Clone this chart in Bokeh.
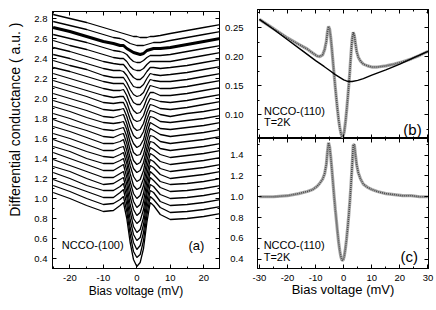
from bokeh.plotting import figure
from bokeh.layouts import row, column
from bokeh.models import LinearAxis, FixedTicker, NumeralTickFormatter, Label, Range1d, Title
from bokeh.embed import file_html
from bokeh.resources import INLINE

FONT = "Liberation Sans"

# ---------------- panel (a): NCCO-(100), curves offset ----------------
a_bias = [-25, -20, -15, -10, -7, -5, -4, -3, -2, -1, 0, 1, 2, 3, 4, 5, 7, 10, 15, 20, 25]
g00 = [2.84,2.80,2.76,2.71,2.68,2.66,2.65,2.64,2.63,2.62,2.62,2.61,2.61,2.61,2.62,2.62,2.63,2.65,2.68,2.71,2.74]
g01 = [2.77,2.73,2.69,2.64,2.61,2.60,2.59,2.57,2.55,2.54,2.53,2.53,2.53,2.54,2.55,2.56,2.56,2.58,2.61,2.64,2.67]
g02 = [2.71,2.67,2.62,2.57,2.55,2.53,2.53,2.50,2.48,2.46,2.45,2.44,2.45,2.48,2.49,2.50,2.50,2.51,2.54,2.57,2.60]
g03 = [2.64,2.60,2.56,2.51,2.48,2.47,2.46,2.44,2.40,2.37,2.36,2.36,2.38,2.41,2.43,2.43,2.43,2.44,2.47,2.50,2.53]
g04 = [2.58,2.53,2.49,2.44,2.41,2.40,2.40,2.37,2.32,2.29,2.28,2.28,2.30,2.34,2.37,2.37,2.37,2.37,2.40,2.43,2.46]
g05 = [2.51,2.47,2.42,2.37,2.35,2.34,2.34,2.30,2.25,2.21,2.19,2.19,2.22,2.27,2.31,2.31,2.30,2.31,2.33,2.36,2.39]
g06 = [2.44,2.40,2.35,2.30,2.28,2.28,2.27,2.23,2.17,2.12,2.11,2.11,2.14,2.20,2.25,2.24,2.23,2.24,2.26,2.29,2.32]
g07 = [2.38,2.33,2.29,2.23,2.21,2.21,2.21,2.16,2.09,2.04,2.02,2.03,2.06,2.13,2.19,2.18,2.17,2.17,2.19,2.22,2.25]
g08 = [2.31,2.27,2.22,2.17,2.15,2.15,2.15,2.10,2.02,1.96,1.94,1.94,1.99,2.06,2.13,2.12,2.10,2.10,2.12,2.15,2.18]
g09 = [2.25,2.20,2.15,2.10,2.08,2.08,2.09,2.03,1.94,1.88,1.85,1.86,1.91,2.00,2.06,2.06,2.03,2.03,2.05,2.08,2.11]
g10 = [2.18,2.13,2.08,2.03,2.01,2.02,2.02,1.96,1.86,1.79,1.77,1.78,1.83,1.93,2.00,1.99,1.97,1.96,1.98,2.01,2.04]
g11 = [2.12,2.07,2.02,1.96,1.95,1.96,1.96,1.89,1.79,1.71,1.68,1.69,1.75,1.86,1.94,1.93,1.90,1.89,1.91,1.94,1.97]
g12 = [2.05,2.00,1.95,1.89,1.88,1.89,1.90,1.82,1.71,1.63,1.60,1.61,1.67,1.79,1.88,1.87,1.84,1.82,1.85,1.87,1.90]
g13 = [1.98,1.93,1.88,1.82,1.81,1.83,1.84,1.75,1.63,1.55,1.51,1.53,1.59,1.72,1.82,1.81,1.77,1.76,1.78,1.80,1.83]
g14 = [1.92,1.87,1.81,1.76,1.75,1.76,1.77,1.69,1.56,1.46,1.43,1.44,1.52,1.65,1.76,1.74,1.70,1.69,1.71,1.73,1.76]
g15 = [1.85,1.80,1.74,1.69,1.68,1.70,1.71,1.62,1.48,1.38,1.34,1.36,1.44,1.58,1.70,1.68,1.64,1.62,1.64,1.66,1.69]
g16 = [1.79,1.73,1.68,1.62,1.61,1.64,1.65,1.55,1.40,1.30,1.26,1.28,1.36,1.51,1.63,1.62,1.57,1.55,1.57,1.59,1.62]
g17 = [1.72,1.67,1.61,1.55,1.55,1.57,1.59,1.48,1.33,1.22,1.17,1.19,1.28,1.45,1.57,1.56,1.50,1.48,1.50,1.52,1.55]
g18 = [1.65,1.60,1.54,1.48,1.48,1.51,1.52,1.41,1.25,1.13,1.09,1.11,1.20,1.38,1.51,1.49,1.44,1.41,1.43,1.45,1.48]
g19 = [1.59,1.53,1.47,1.42,1.41,1.44,1.46,1.35,1.17,1.05,1.00,1.03,1.13,1.31,1.45,1.43,1.37,1.34,1.36,1.38,1.41]
g20 = [1.52,1.47,1.40,1.35,1.35,1.38,1.40,1.28,1.10,0.97,0.91,0.94,1.05,1.24,1.39,1.37,1.30,1.27,1.29,1.31,1.34]
g21 = [1.46,1.40,1.34,1.28,1.28,1.32,1.34,1.21,1.02,0.89,0.83,0.86,0.97,1.17,1.33,1.31,1.24,1.20,1.22,1.24,1.27]
g22 = [1.39,1.33,1.27,1.21,1.21,1.25,1.27,1.14,0.94,0.80,0.75,0.78,0.89,1.10,1.27,1.24,1.17,1.14,1.15,1.17,1.20]
g23 = [1.32,1.27,1.20,1.14,1.15,1.19,1.21,1.07,0.87,0.72,0.66,0.69,0.81,1.04,1.21,1.18,1.11,1.07,1.08,1.10,1.13]
g24 = [1.26,1.20,1.13,1.08,1.08,1.12,1.15,1.01,0.79,0.64,0.58,0.61,0.74,0.97,1.14,1.12,1.04,1.00,1.01,1.03,1.06]
g25 = [1.19,1.13,1.07,1.01,1.01,1.06,1.09,0.94,0.71,0.56,0.49,0.53,0.66,0.90,1.08,1.06,0.97,0.93,0.94,0.96,0.99]
g26 = [1.13,1.07,1.00,0.94,0.95,0.99,1.02,0.87,0.64,0.47,0.41,0.44,0.58,0.83,1.02,0.99,0.91,0.86,0.87,0.89,0.92]
g27 = [1.06,1.00,0.93,0.87,0.88,0.93,0.96,0.80,0.56,0.39,0.32,0.36,0.50,0.76,0.96,0.93,0.84,0.79,0.80,0.82,0.85]
a_curves = [g00, g01, g02, g03, g04, g05, g06, g07, g08, g09, g10, g11, g12, g13,
            g14, g15, g16, g17, g18, g19, g20, g21, g22, g23, g24, g25, g26, g27]
a_thick = [g02]

a_xticks = [-20, -10, 0, 10, 20]
a_xminor = [-25, -15, -5, 5, 15, 25]
a_yticks = [0.4, 0.6, 0.8, 1.0, 1.2, 1.4, 1.6, 1.8, 2.0, 2.2, 2.4, 2.6, 2.8]
a_yminor = [0.3, 0.5, 0.7, 0.9, 1.1, 1.3, 1.5, 1.7, 1.9, 2.1, 2.3, 2.5, 2.7]

# ---------------- panels (b) and (c): NCCO-(110), T=2K ----------------
bc_bias = [-30, -25, -20, -16, -13, -11, -9.5, -8.5, -7.5, -6.8, -6.2, -5.8, -5.4, -5.0, -4.6,
           -4.2, -3.8, -3.4, -3.0, -2.6, -2.2, -1.8, -1.4, -1.0, -0.6, -0.2, 0.2, 0.6, 1.0,
           1.4, 1.8, 2.2, 2.6, 3.0, 3.4, 3.8, 4.2, 4.6, 5.2, 6, 7, 8.5, 10, 12, 15, 18,
           21, 24, 27, 30]
b_raw = [.264, .248, .232, .221, .213, .206, .201, .200, .203, .212, .226, .242, .252, .247, .232,
         .212, .190, .168, .147, .127, .108, .091, .078, .068, .062, .063, .071, .086, .105,
         .127, .150, .176, .205, .230, .242, .236, .222, .209, .199, .192, .187, .184, .182, .182, .184, .187,
         .191, .196, .202, .209]
b_norm_bias = [-30, -25, -20, -15, -10, -7, -5, -3, -1, 0, 1, 2, 3, 5, 7, 10, 15, 20, 25, 30]
b_norm = [.264, .247, .229, .211, .193, .183, .176, .169, .163, .160, .158, .157, .157, .159, .162,
          .168, .177, .187, .198, .209]
c_norm = [1.00, 1.00, 1.01, 1.03, 1.05, 1.07, 1.10, 1.13, 1.17, 1.22, 1.31, 1.43, 1.52, 1.48, 1.38,
          1.26, 1.13, 1.00, 0.88, 0.77, 0.66, 0.56, 0.48, 0.42, 0.39, 0.39, 0.43, 0.50, 0.59,
          0.70, 0.82, 0.96, 1.12, 1.30, 1.50, 1.50, 1.40, 1.31, 1.23, 1.17, 1.12, 1.09, 1.07, 1.05,
          1.03, 1.02, 1.01, 1.01, 1.00, 1.00]

bc_xticks = [-30, -20, -10, 0, 10, 20, 30]
bc_xminor = [-25, -15, -5, 5, 15, 25]
b_yticks = [0.10, 0.15, 0.20, 0.25]
b_yminor = [0.075, 0.125, 0.175, 0.225, 0.275]
c_yticks = [0.4, 0.6, 0.8, 1.0, 1.2, 1.4]
c_yminor = [0.3, 0.5, 0.7, 0.9, 1.1, 1.3, 1.5]

TICK_FONT = "9.5px"


def base_axis(ticker):
    ax = LinearAxis(ticker=ticker)
    ax.major_tick_in = 4
    ax.major_tick_out = 0
    ax.minor_tick_in = 2
    ax.minor_tick_out = 0
    ax.axis_line_color = "black"
    ax.major_tick_line_color = "black"
    ax.minor_tick_line_color = "black"
    ax.major_label_text_font = FONT
    ax.major_label_text_color = "black"
    ax.major_label_text_font_size = TICK_FONT
    ax.axis_label_text_font = FONT
    ax.axis_label_text_font_style = "normal"
    ax.axis_label_text_color = "black"
    ax.axis_label_standoff = 0
    return ax


def labelled_axis(p, side, ticks, minor, fmt, standoff):
    ax = base_axis(FixedTicker(ticks=ticks, minor_ticks=minor))
    ax.formatter = NumeralTickFormatter(format=fmt)
    ax.major_label_standoff = standoff
    p.add_layout(ax, side)
    return ax


def tick_only_axes(p, side, ticks, minor):
    # label-free mirror axes on the same edge: long ticks, then short ticks
    for tks, length in ((ticks, 4), (minor, 2)):
        ax = base_axis(FixedTicker(ticks=[], minor_ticks=tks))
        ax.minor_tick_in = length
        ax.major_tick_in = 0
        ax.major_label_standoff = 0
        p.add_layout(ax, side)


def make_fig(width, height, xr, yr, borders):
    p = figure(width=width, height=height, x_range=Range1d(*xr), y_range=Range1d(*yr),
               output_backend="svg", toolbar_location=None,
               x_axis_location=None, y_axis_location=None,
               min_border_left=borders[0], min_border_right=borders[1],
               min_border_top=borders[2], min_border_bottom=borders[3])
    p.grid.visible = False
    p.outline_line_color = "black"
    p.background_fill_color = "white"
    p.border_fill_color = "white"
    return p


# panel (a)
pa = make_fig(222, 310, (-25.2, 24.7), (0.30, 2.87), (48, 3, 11, 42))
ax_a = labelled_axis(pa, "below", a_xticks, a_xminor, "0", 6)
ax_a.axis_label = "Bias voltage (mV)"
ax_a.axis_label_text_font_size = "12px"
labelled_axis(pa, "left", a_yticks, a_yminor, "0.0", 5)
tick_only_axes(pa, "above", a_xticks, a_xminor)
tick_only_axes(pa, "right", a_yticks, a_yminor)
pa.add_layout(Title(text="Differential conductance ( a.u. )", align="right", offset=11,
                    vertical_align="top", standoff=13, text_font=FONT, text_font_size="14px",
                    text_font_style="normal", text_color="black"), "left")
for curve in a_curves:
    pa.line(a_bias, curve, line_color="black", line_width=1.3)
for curve in a_thick:
    pa.line(a_bias, curve, line_color="black", line_width=3)
pa.add_layout(Label(x=-22.4, y=0.54, text="NCCO-(100)", text_baseline="middle",
                    text_font=FONT, text_font_size="11px", text_color="black"))
pa.add_layout(Label(x=17.8, y=0.53, text="(a)", text_align="center", text_baseline="middle",
                    text_font=FONT, text_font_size="13px", text_color="black"))

# panel (b)
pb = make_fig(214, 138, (-30.7, 30.2), (0.059, 0.281), (35, 8, 9, 0))
labelled_axis(pb, "left", b_yticks, b_yminor, "0.00", 14)
tick_only_axes(pb, "below", bc_xticks, bc_xminor)
tick_only_axes(pb, "above", bc_xticks, bc_xminor)
tick_only_axes(pb, "right", b_yticks, b_yminor)
pb.line(bc_bias, b_raw, line_color="#ababab", line_width=3.2)
pb.line(bc_bias, b_raw, line_color="#4a4a4a", line_width=1.6, line_dash="1 1")
pb.line(b_norm_bias, b_norm, line_color="black", line_width=1.4)
pb.add_layout(Label(x=-28.4, y=0.106, text="NCCO-(110)", text_baseline="middle",
                    text_font=FONT, text_font_size="11px", text_color="black"))
pb.add_layout(Label(x=-28.4, y=0.088, text="T=2K", text_baseline="middle",
                    text_font=FONT, text_font_size="11px", text_color="black"))
pb.add_layout(Label(x=24.5, y=0.075, text="(b)", text_align="center", text_baseline="middle",
                    text_font=FONT, text_font_size="15px", text_color="black"))

# panel (c)
pc = make_fig(214, 172, (-30.7, 30.2), (0.31, 1.56), (35, 8, 0, 42))
ax_c = labelled_axis(pc, "below", bc_xticks, bc_xminor, "0", 6)
ax_c.axis_label = "Bias voltage (mV)"
ax_c.axis_label_text_font_size = "13px"
ax_c.axis_label_standoff = -2
labelled_axis(pc, "left", c_yticks, c_yminor, "0.0", 14)
tick_only_axes(pc, "above", bc_xticks, bc_xminor)
tick_only_axes(pc, "right", c_yticks, c_yminor)
pc.line(bc_bias, c_norm, line_color="#ababab", line_width=3.2)
pc.line(bc_bias, c_norm, line_color="#4a4a4a", line_width=1.6, line_dash="1 1")
pc.add_layout(Label(x=-28.5, y=0.54, text="NCCO-(110)", text_baseline="middle",
                    text_font=FONT, text_font_size="11px", text_color="black"))
pc.add_layout(Label(x=-28.5, y=0.42, text="T=2K", text_baseline="middle",
                    text_font=FONT, text_font_size="11px", text_color="black"))
pc.add_layout(Label(x=23.3, y=0.43, text="(c)", text_align="center", text_baseline="middle",
                    text_font=FONT, text_font_size="15px", text_color="black"))

page = row(pa, column(pb, pc, spacing=0), spacing=0)
open("out.html", "w").write(file_html(page, INLINE))
